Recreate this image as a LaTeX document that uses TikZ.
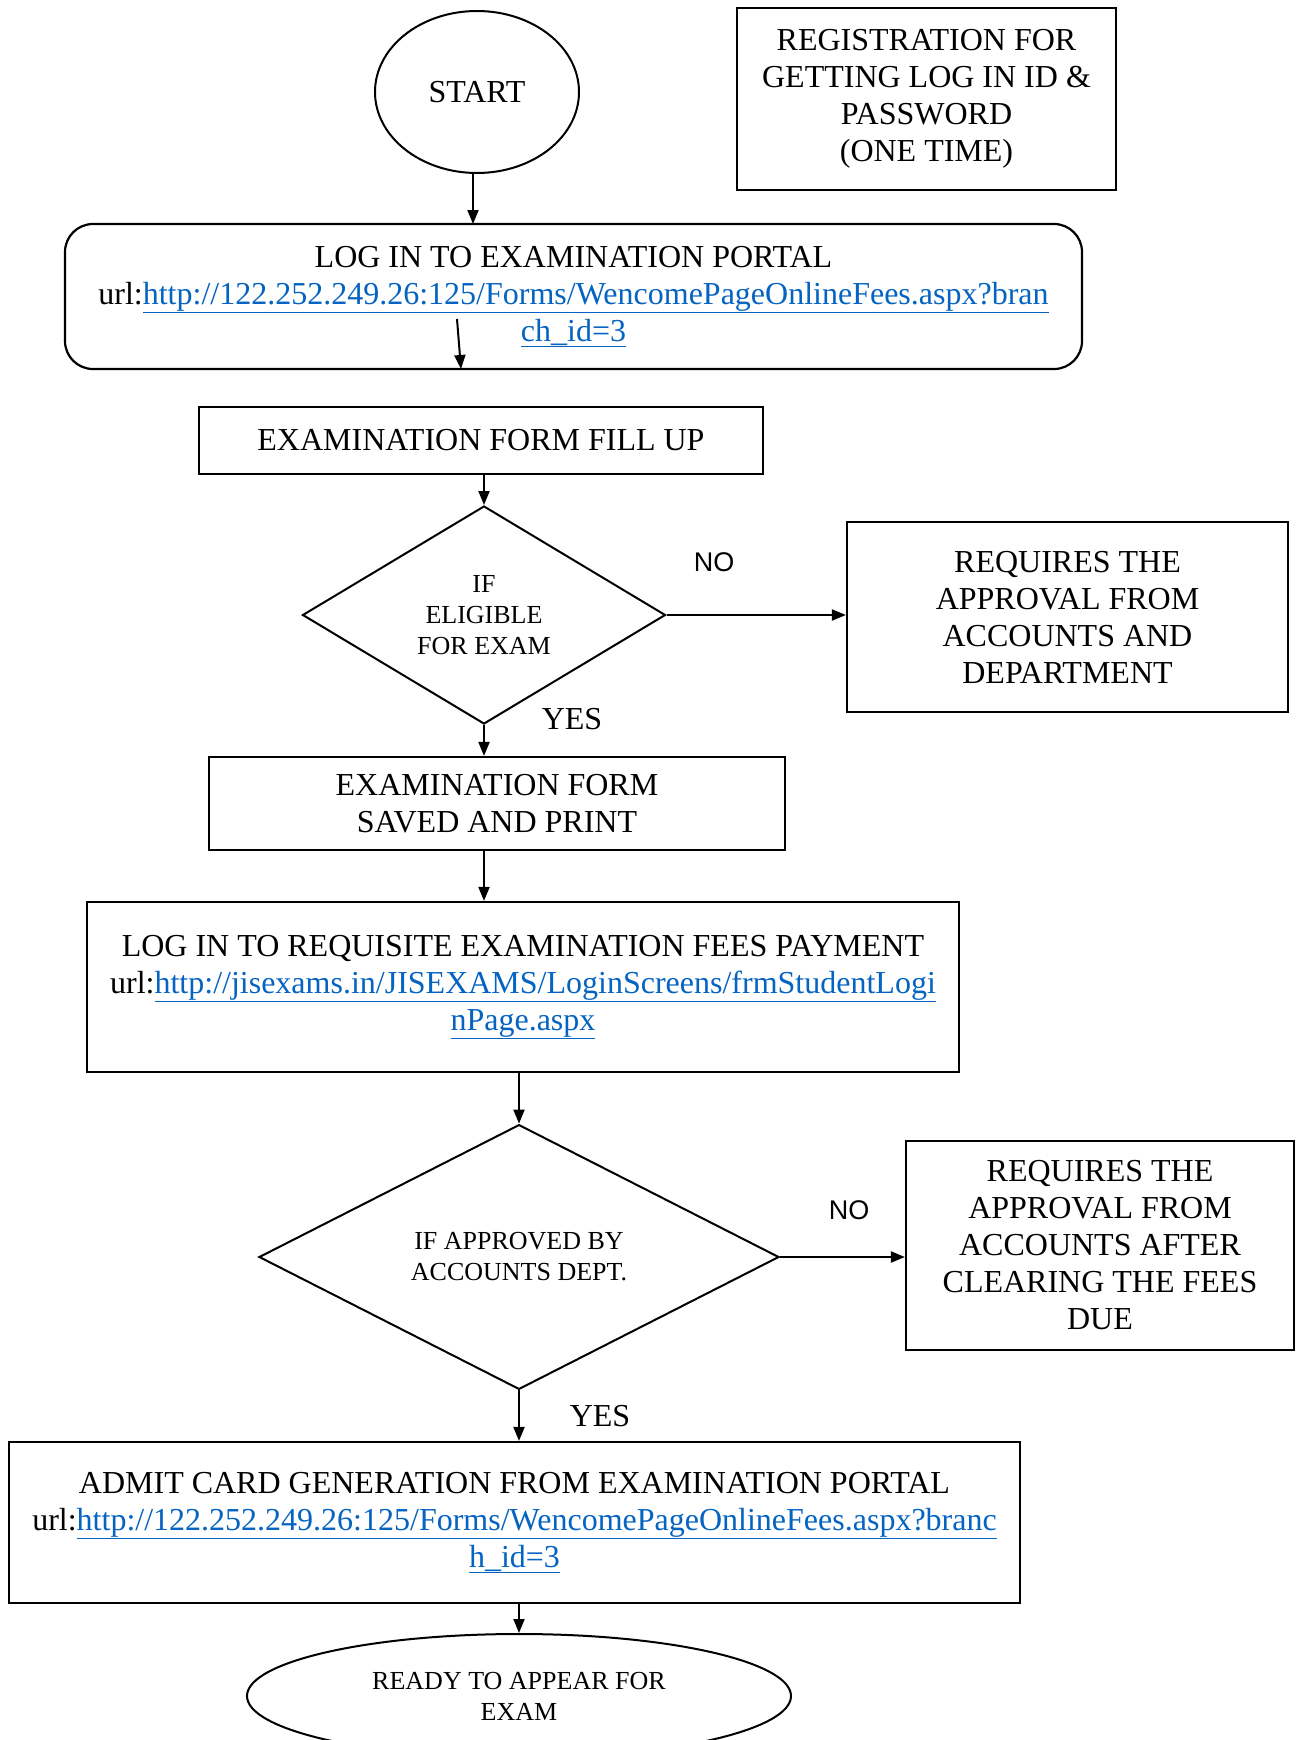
\documentclass[tikz,border=0pt]{standalone}
\usepackage{fontspec}
\setmainfont{Liberation Serif}
\newfontfamily\arialf{Liberation Sans}
\usetikzlibrary{shapes.geometric,arrows.meta}
\definecolor{linkblue}{RGB}{5,99,193}
\newcommand{\lnk}[1]{\textcolor{linkblue}{\underline{#1}}}
\tikzset{
  box/.style={draw, line width=2.2pt, inner sep=0pt, align=center, font=\fontsize{32}{37}\selectfont},
  dia/.style={draw, diamond, line width=2pt, inner sep=0pt, align=center, font=\fontsize{26}{31}\selectfont},
  ell/.style={draw, ellipse, line width=2pt, inner sep=0pt, align=center},
  conn/.style={line width=2pt, -{Triangle[length=14pt,width=11pt]}},
  lab/.style={inner sep=0pt, font=\fontsize{32}{37}\selectfont},
  nolab/.style={inner sep=0pt, font=\arialf\fontsize{27}{32}\selectfont}
}
\begin{document}
\begin{tikzpicture}[x=1pt,y=-1pt]
\useasboundingbox (0,0) rectangle (1301,1740);
\node[ell, minimum width=204pt, minimum height=162pt, font=\fontsize{32}{37}\selectfont] (start) at (477,92) {START};
\node[box, minimum width=379pt, minimum height=182pt] (reg) at (926.5,99) {REGISTRATION FOR\\GETTING LOG IN ID \&\\PASSWORD\\(ONE TIME)};
\node[box, rounded corners=28pt, minimum width=1017pt, minimum height=145pt] (login) at (573.5,296.5)
  {LOG IN TO EXAMINATION PORTAL\\url:\lnk{http://122.252.249.26:125/Forms/WencomePageOnlineFees.aspx?bran}\\\lnk{ch\_id=3}};
\node[box, minimum width=564pt, minimum height=67pt] (form) at (481,440.5) {EXAMINATION FORM FILL UP};
\node[dia, minimum width=363pt, minimum height=218pt] (d1) at (484,615) {IF\\ELIGIBLE\\FOR EXAM};
\node[box, minimum width=441pt, minimum height=190pt] (rb1) at (1067.5,617) {REQUIRES THE\\APPROVAL FROM\\ACCOUNTS AND\\DEPARTMENT};
\node[box, minimum width=576pt, minimum height=93pt] (saved) at (497,803.5) {EXAMINATION FORM\\SAVED AND PRINT};
\node[box, minimum width=872pt, minimum height=170pt] (fees) at (523,987)
  {LOG IN TO REQUISITE EXAMINATION FEES PAYMENT\\url:\lnk{http://jisexams.in/JISEXAMS/LoginScreens/frmStudentLogi}\\\lnk{nPage.aspx}};
\node[dia, minimum width=520pt, minimum height=256pt] (d2) at (519,1257) {IF APPROVED BY\\ACCOUNTS DEPT.};
\node[box, minimum width=388pt, minimum height=209pt] (rb2) at (1100,1245.5) {REQUIRES THE\\APPROVAL FROM\\ACCOUNTS AFTER\\CLEARING THE FEES\\DUE};
\node[box, minimum width=1011pt, minimum height=161pt] (admit) at (514.5,1522.5)
  {ADMIT CARD GENERATION FROM EXAMINATION PORTAL\\url:\lnk{http://122.252.249.26:125/Forms/WencomePageOnlineFees.aspx?branc}\\\lnk{h\_id=3}};
\node[ell, minimum width=544pt, minimum height=124pt, font=\fontsize{26}{31}\selectfont] (end) at (519,1696) {READY TO APPEAR FOR\\EXAM};
\node[nolab] (no1) at (714,562) {NO};
\node[lab] (yes1) at (572,719) {YES};
\node[nolab] (no2) at (849,1210) {NO};
\node[lab] (yes2) at (600,1416) {YES};
\coordinate (a1s) at (457,319);
\coordinate (a1e) at (461,369);
\draw[conn] (start.south -| 473,0) -- (473,224);
\draw[conn] (a1s) -- (a1e);
\draw[conn] (d1.north |- form.south) -- (d1.north);
\draw[conn] (d1.east) -- (d1.east -| rb1.west);
\draw[conn] (d1.south) -- (d1.south |- saved.north);
\draw[conn] (d1.south |- saved.south) -- (d1.south |- fees.north);
\draw[conn] (d2.north |- fees.south) -- (d2.north);
\draw[conn] (d2.east) -- (d2.east -| rb2.west);
\draw[conn] (d2.south) -- (d2.south |- admit.north);
\draw[conn] (end.north |- admit.south) -- (end.north);
\end{tikzpicture}
\end{document}
